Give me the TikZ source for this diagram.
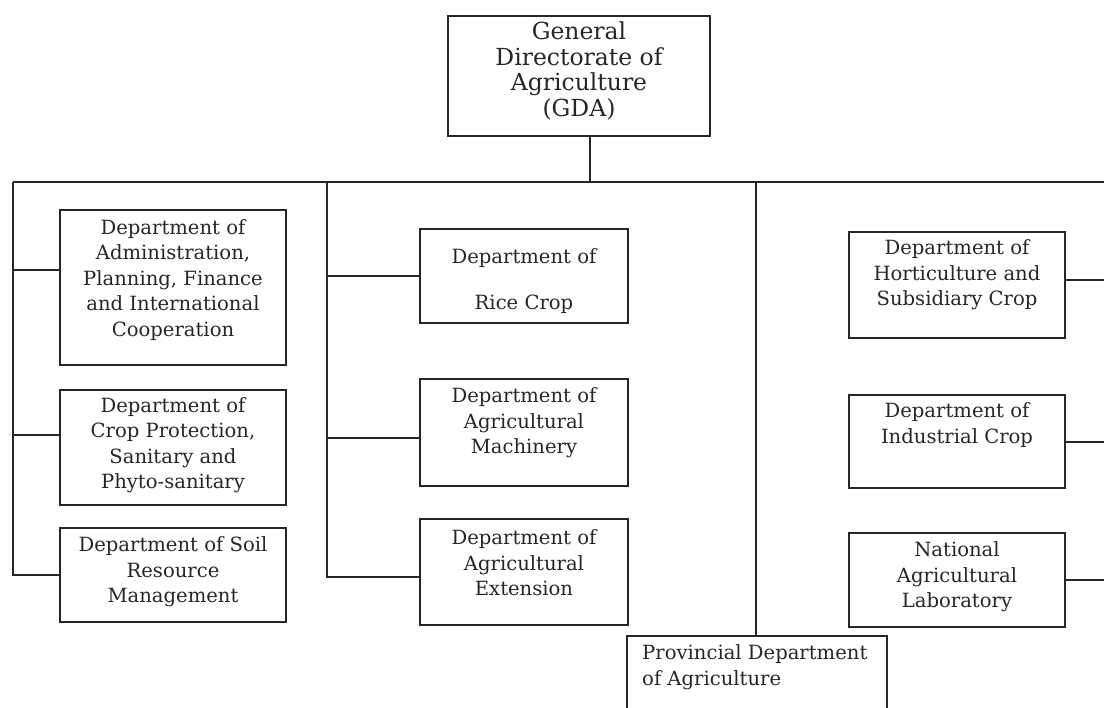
\documentclass[tikz,border=0pt]{standalone}
\usepackage{fontspec}
\setmainfont{DejaVu Serif}
\begin{document}
\begin{tikzpicture}[x=1pt,y=-1pt,
  box/.style={draw=black!85,line width=1.9pt,rectangle,inner sep=0pt},
  lbl/.style={align=center,inner sep=0pt,text=black!85,font=\fontsize{19.6}{25.5}\selectfont},
  big/.style={align=center,inner sep=0pt,text=black!85,font=\fontsize{23.5}{25.7}\selectfont},
  wire/.style={draw=black!85,line width=1.9pt}]
\useasboundingbox (0,0) rectangle (1104,708);
% boxes
\node[box,minimum width=262pt,minimum height=120pt] (gda) at (579,76) {};
\node[box,minimum width=226pt,minimum height=155pt] (a1) at (173,287.5) {};
\node[box,minimum width=226pt,minimum height=115pt] (a2) at (173,447.5) {};
\node[box,minimum width=226pt,minimum height=94pt] (a3) at (173,575) {};
\node[box,minimum width=208pt,minimum height=94pt] (m1) at (524,276) {};
\node[box,minimum width=208pt,minimum height=107pt] (m2) at (524,432.5) {};
\node[box,minimum width=208pt,minimum height=106pt] (m3) at (524,572) {};
\node[box,minimum width=216pt,minimum height=106pt] (r1) at (957,285) {};
\node[box,minimum width=216pt,minimum height=93pt] (r2) at (957,441.5) {};
\node[box,minimum width=216pt,minimum height=94pt] (r3) at (957,580) {};
\node[box,minimum width=260pt,minimum height=80pt] (prov) at (757,676) {};
% texts
\node[big] (tgda) at (579,71) {General\\Directorate of\\Agriculture\\(GDA)};
\node[lbl] (ta1) at (173,280) {Department of\\Administration,\\Planning, Finance\\and International\\Cooperation};
\node[lbl] (ta2) at (173,445) {Department of\\Crop Protection,\\Sanitary and\\Phyto-sanitary};
\node[lbl] (ta3) at (173,572) {Department of Soil\\Resource\\Management};
\node[lbl] (tm1) at (524,281) {Department of\\[21pt]Rice Crop};
\node[lbl] (tm2) at (524,423) {Department of\\Agricultural\\Machinery};
\node[lbl] (tm3) at (524,563) {Department of\\Agricultural\\Extension};
\node[lbl] (tr1) at (957,275) {Department of\\Horticulture and\\Subsidiary Crop};
\node[lbl] (tr2) at (957,425) {Department of\\Industrial Crop};
\node[lbl] (tr3) at (957,577) {National\\Agricultural\\Laboratory};
\node[lbl,align=left,anchor=west] (tprov) at (642,667) {Provincial Department\\of Agriculture};
% connector coordinates
\coordinate (bus) at (590,182);
\coordinate (busL) at (13,182);
\coordinate (busM) at (327,182);
\coordinate (busP) at (756,182);
\coordinate (busR) at (1104,182);
\coordinate (edge) at (1104,0);
% connectors
\draw[wire] (gda.south -| bus) -- (bus);
\draw[wire] (busL) -- (busR);
\draw[wire] (busL) |- (a3.west);
\draw[wire] (busL |- 0,270) -- (a1.west |- 0,270);
\draw[wire] (busL |- 0,435) -- (a2.west |- 0,435);
\draw[wire] (busM) |- (m3.west |- 0,577);
\draw[wire] (busM |- m1.west) -- (m1.west);
\draw[wire] (busM |- 0,438) -- (m2.west |- 0,438);
\draw[wire] (busP) -- (prov.north -| busP);
\draw[wire] (r1.east |- 0,280) -- (edge |- 0,280);
\draw[wire] (r2.east |- 0,442) -- (edge |- 0,442);
\draw[wire] (r3.east |- 0,580) -- (edge |- 0,580);
\end{tikzpicture}
\end{document}
